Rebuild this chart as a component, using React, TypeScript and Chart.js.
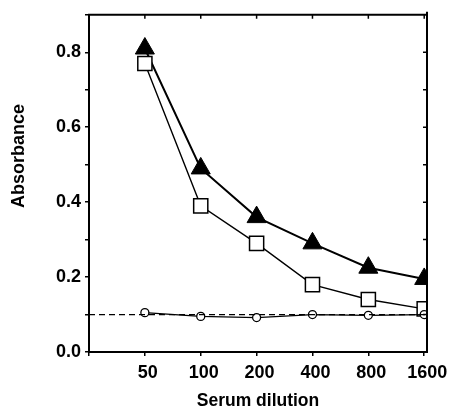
import React, { useEffect, useRef } from "react";
import { Chart, registerables } from "chart.js";

Chart.register(...registerables);

const categories = ["50", "100", "200", "400", "800", "1600"];
const triangleValues = [0.81, 0.49, 0.36, 0.29, 0.225, 0.195];
const squareValues = [0.77, 0.39, 0.29, 0.18, 0.14, 0.115];
const circleValues = [0.105, 0.095, 0.092, 0.1, 0.098, 0.1];
const cutoff = 0.1;
const yTickLabels = ["0.0", "0.2", "0.4", "0.6", "0.8"];
const xMin = 0;
const xMax = 6.05;
const yMin = 0;
const yMax = 0.9;

const FONT = "'Liberation Sans', Arial, Helvetica, sans-serif";

const framePlugin = {
  id: "frame",
  afterDraw(chart: any) {
    const { ctx, chartArea, scales } = chart;
    const { left, right, top, bottom } = chartArea;
    ctx.save();
    ctx.strokeStyle = "#000";
    ctx.lineWidth = 2;
    ctx.beginPath();
    ctx.moveTo(left - 1, top);
    ctx.lineTo(right, top);
    ctx.moveTo(right, top - 3);
    ctx.lineTo(right, bottom + 1);
    ctx.stroke();
    ctx.lineWidth = 1.5;
    ctx.beginPath();
    categories.forEach((_, i) => {
      const px = scales.x.getPixelForValue(i + 1);
      ctx.moveTo(px, top);
      ctx.lineTo(px, top + 4);
    });
    for (let k = 1; k <= 8; k++) {
      const py = scales.y.getPixelForValue(k / 10);
      ctx.moveTo(right, py);
      ctx.lineTo(right - 4, py);
    }
    ctx.stroke();
    ctx.restore();
  },
};

export default function App() {
  const ref = useRef<HTMLCanvasElement | null>(null);

  useEffect(() => {
    if (!ref.current) return;
    const toXY = (vals: number[]) => vals.map((y, i) => ({ x: i + 1, y }));
    const chart = new Chart(ref.current, {
      type: "line",
      data: {
        datasets: [
          {
            label: "cutoff",
            data: [
              { x: xMin, y: cutoff },
              { x: xMax, y: cutoff },
            ],
            borderColor: "#000",
            borderWidth: 1.3,
            borderDash: [6, 4],
            pointRadius: 0,
            fill: false,
          },
          {
            label: "circles",
            data: toXY(circleValues),
            borderColor: "#000",
            borderWidth: 1.3,
            pointStyle: "circle",
            pointRadius: 4,
            pointBackgroundColor: "#fff",
            pointBorderColor: "#000",
            pointBorderWidth: 1.3,
            fill: false,
          },
          {
            label: "squares",
            data: toXY(squareValues),
            borderColor: "#000",
            borderWidth: 1.4,
            pointStyle: "rect",
            pointRadius: 10,
            pointBackgroundColor: "#fff",
            pointBorderColor: "#000",
            pointBorderWidth: 1.5,
            fill: false,
          },
          {
            label: "triangles",
            data: toXY(triangleValues),
            borderColor: "#000",
            borderWidth: 2,
            pointStyle: "triangle",
            pointRadius: 11,
            pointBackgroundColor: "#000",
            pointBorderColor: "#000",
            pointBorderWidth: 1,
            fill: false,
          },
        ],
      },
      options: {
        responsive: false,
        animation: false,
        layout: { padding: { top: 13, right: 28, left: 0, bottom: 0 } },
        plugins: {
          legend: { display: false },
          tooltip: { enabled: false },
        },
        scales: {
          x: {
            type: "linear",
            min: xMin,
            max: xMax,
            afterFit: (s: any) => {
              s.height = 60;
            },
            border: { display: true, color: "#000", width: 2 },
            grid: {
              drawOnChartArea: false,
              drawTicks: true,
              tickLength: 4,
              color: "#000",
              lineWidth: 1.5,
            },
            ticks: {
              stepSize: 1,
              includeBounds: false,
              autoSkip: false,
              maxRotation: 0,
              padding: 6,
              labelOffset: 3,
              color: "#000",
              font: { family: FONT, size: 18, weight: "bold" },
              callback: (v: any) => {
                const i = Math.round(Number(v));
                return i >= 1 && i <= categories.length ? categories[i - 1] : "";
              },
            },
            title: {
              display: true,
              text: "Serum dilution",
              color: "#000",
              font: { family: FONT, size: 17.5, weight: "bold" },
              padding: { top: 0, bottom: 0 },
            },
          },
          y: {
            type: "linear",
            min: yMin,
            max: yMax,
            afterFit: (s: any) => {
              s.width = 89;
            },
            border: { display: true, color: "#000", width: 2 },
            grid: {
              drawOnChartArea: false,
              drawTicks: true,
              tickLength: 4,
              color: "#000",
              lineWidth: 1.5,
            },
            ticks: {
              stepSize: 0.1,
              includeBounds: false,
              autoSkip: false,
              padding: 4,
              color: "#000",
              font: { family: FONT, size: 18, weight: "bold" },
              callback: (v: any) => {
                const k = Math.round(Number(v) * 10);
                return k % 2 === 0 && k / 2 < yTickLabels.length ? yTickLabels[k / 2] : "";
              },
            },
            title: {
              display: true,
              text: "           Absorbance",
              color: "#000",
              font: { family: FONT, size: 18, weight: "bold" },
              padding: { top: 8, bottom: 0 },
            },
          },
        },
      },
      plugins: [framePlugin],
    } as any);
    return () => chart.destroy();
  }, []);

  return (
    <div style={{ position: "absolute", left: 0, top: 0, width: 455, height: 412, background: "#fff" }}>
      <canvas ref={ref} width={455} height={412} />
    </div>
  );
}
